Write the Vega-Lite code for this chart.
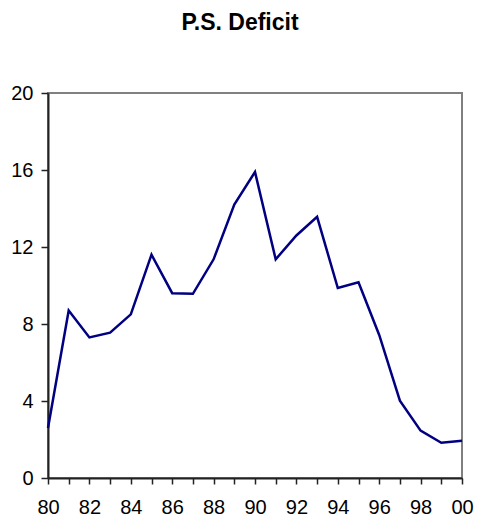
{
  "$schema": "https://vega.github.io/schema/vega-lite/v6.json",
  "width": 414,
  "height": 385,
  "autosize": {"type": "none"},
  "padding": {"left": 48, "top": 93, "right": 15, "bottom": 43},
  "background": "white",
  "title": {
    "text": "P.S. Deficit",
    "font": "Liberation Sans",
    "fontSize": 23,
    "fontWeight": "bold",
    "color": "black",
    "frame": "group",
    "anchor": "middle",
    "baseline": "alphabetic",
    "offset": 30,
    "dx": -15
  },
  "config": {
    "view": {"stroke": "#808080", "strokeWidth": 2},
    "axis": {
      "labelFont": "Liberation Sans",
      "labelFontSize": 20,
      "labelColor": "black",
      "domainColor": "#222222",
      "domainWidth": 2,
      "tickColor": "#222222",
      "tickWidth": 1.5,
      "grid": false,
      "title": null
    }
  },
  "data": {
    "values": [
      {"year": 1980, "deficit": 2.6},
      {"year": 1981, "deficit": 8.7},
      {"year": 1982, "deficit": 7.3},
      {"year": 1983, "deficit": 7.55},
      {"year": 1984, "deficit": 8.5},
      {"year": 1985, "deficit": 11.6},
      {"year": 1986, "deficit": 9.6},
      {"year": 1987, "deficit": 9.57},
      {"year": 1988, "deficit": 11.36},
      {"year": 1989, "deficit": 14.2},
      {"year": 1990, "deficit": 15.9},
      {"year": 1991, "deficit": 11.36},
      {"year": 1992, "deficit": 12.6},
      {"year": 1993, "deficit": 13.57},
      {"year": 1994, "deficit": 9.87},
      {"year": 1995, "deficit": 10.17},
      {"year": 1996, "deficit": 7.43},
      {"year": 1997, "deficit": 4.02},
      {"year": 1998, "deficit": 2.46},
      {"year": 1999, "deficit": 1.83},
      {"year": 2000, "deficit": 1.94}
    ]
  },
  "mark": {"type": "line", "color": "#000080", "strokeWidth": 2.5},
  "encoding": {
    "x": {
      "field": "year",
      "type": "quantitative",
      "scale": {"domain": [1980, 2000], "nice": false, "zero": false},
      "axis": {
        "values": [1980,1981,1982,1983,1984,1985,1986,1987,1988,1989,1990,1991,1992,1993,1994,1995,1996,1997,1998,1999,2000],
        "labelExpr": "datum.value % 2 == 0 ? format(datum.value % 100, '02d') : ''",
        "tickSize": 6,
        "labelPadding": 13,
        "labelOverlap": false,
        "labelFlush": false
      }
    },
    "y": {
      "field": "deficit",
      "type": "quantitative",
      "scale": {"domain": [0, 20], "nice": false},
      "axis": {
        "values": [0, 4, 8, 12, 16, 20],
        "tickSize": 7,
        "labelPadding": 8
      }
    }
  }
}
